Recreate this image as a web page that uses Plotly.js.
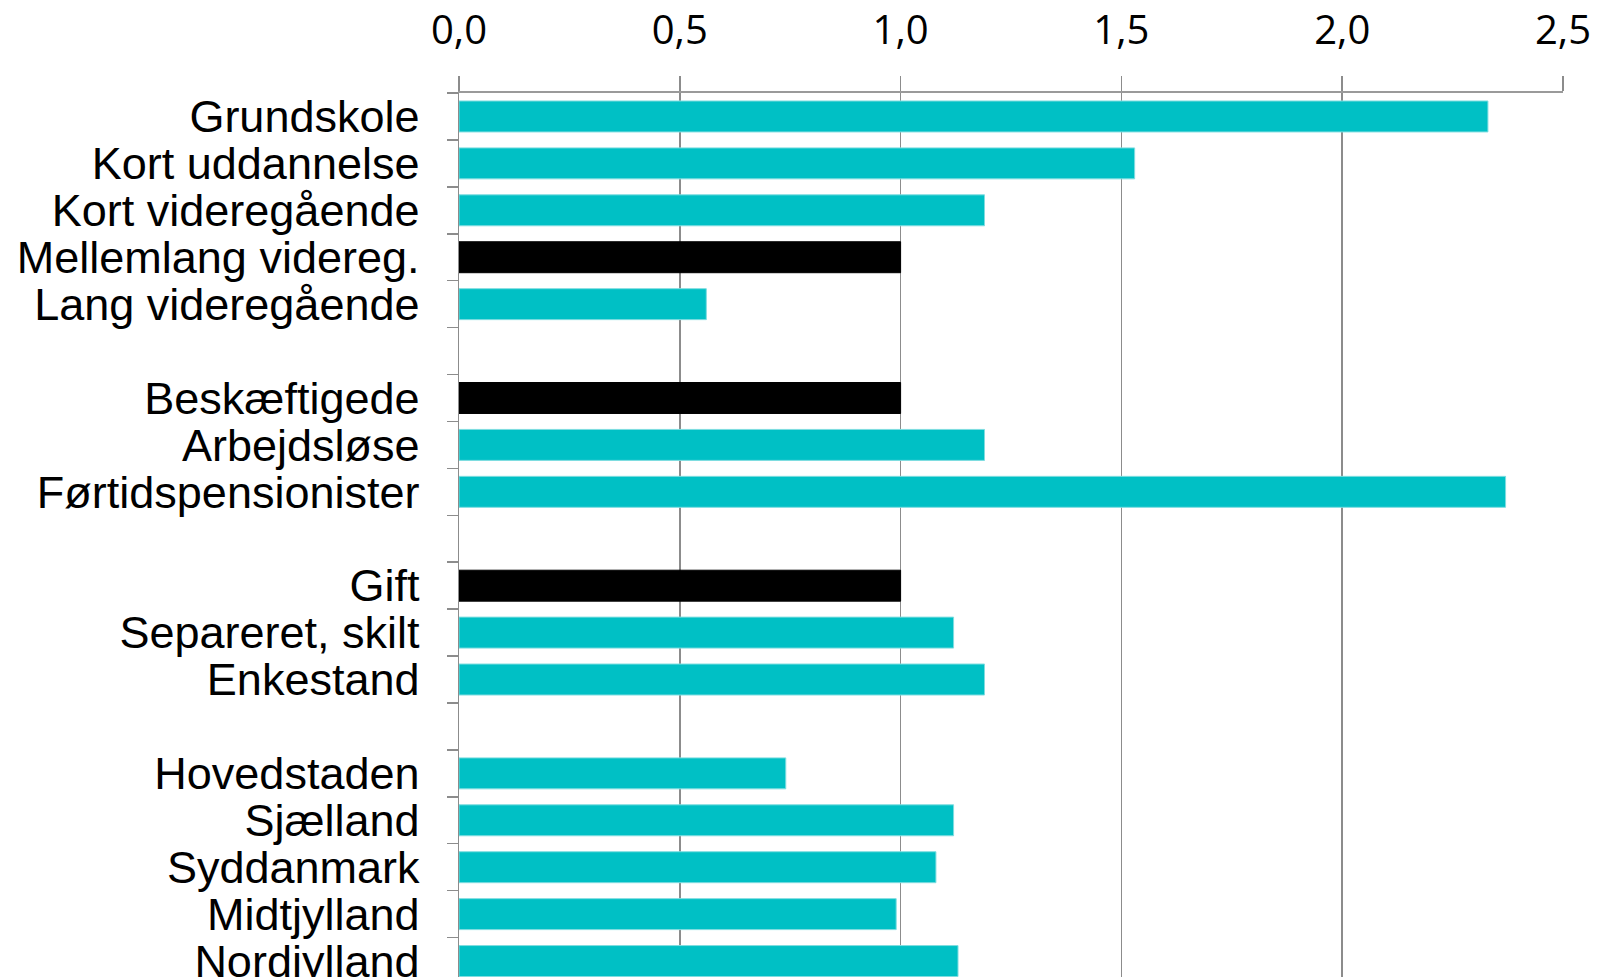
<!DOCTYPE html>
<html>
<head>
<meta charset="utf-8">
<script src="https://cdn.plot.ly/plotly-3.0.1.min.js"></script>
<style>
html,body{margin:0;padding:0;background:#fff;}
#chart{width:1599px;height:977px;}
</style>
</head>
<body>
<div id="chart"></div>
<script>
// Categories (blank entries are the gaps between groups)
const categories = [
  "Grundskole", "Kort uddannelse", "Kort videregående", "Mellemlang videreg.", "Lang videregående",
  " ",
  "Beskæftigede", "Arbejdsløse", "Førtidspensionister",
  "  ",
  "Gift", "Separeret, skilt", "Enkestand",
  "   ",
  "Hovedstaden", "Sjælland", "Syddanmark", "Midtjylland", "Nordjylland"
];
const values = [
  2.33, 1.53, 1.19, 1.00, 0.56,
  null,
  1.00, 1.19, 2.37,
  null,
  1.00, 1.12, 1.19,
  null,
  0.74, 1.12, 1.08, 0.99, 1.13
];
// Reference group of each block (drawn black)
const isReference = [
  false, false, false, true, false,
  false,
  true, false, false,
  false,
  true, false, false,
  false,
  false, false, false, false, false
];
const xTicks = [0, 0.5, 1.0, 1.5, 2.0, 2.5];

const TEAL = "#00c0c5";
const colors = isReference.map(r => r ? "#000000" : TEAL);
const lineColors = isReference.map(r => r ? "#000000" : "#7fdde0");

const trace = {
  type: "bar",
  orientation: "h",
  y: categories,
  x: values,
  marker: { color: colors, line: { color: lineColors, width: 1 } },
  hoverinfo: "x+y"
};

const layout = {
  width: 1599,
  height: 977,
  margin: { l: 459, r: 36, t: 93, b: 0, pad: 0 },
  paper_bgcolor: "#ffffff",
  plot_bgcolor: "#ffffff",
  separators: ",.",
  showlegend: false,
  bargap: 0.34,
  xaxis: {
    side: "top",
    range: [0, 2.5],
    tickmode: "array",
    tickvals: xTicks,
    tickformat: ".1f",
    showgrid: true,
    gridcolor: "#8c8c8c",
    gridwidth: 1.5,
    zeroline: false,
    showline: true,
    linecolor: "#9a9a9a",
    linewidth: 2,
    ticks: "outside",
    ticklen: 15,
    tickwidth: 1.5,
    tickcolor: "#8c8c8c",
    ticklabelstandoff: 16,
    tickfont: { family: "Open Sans, Lato, sans-serif", size: 40, color: "#000000" },
    fixedrange: true
  },
  yaxis: {
    type: "category",
    categoryorder: "array",
    categoryarray: categories,
    range: [18.34, -0.5],
    tickmode: "array",
    tickvals: categories,
    ticktext: categories,
    tickson: "boundaries",
    ticks: "outside",
    ticklen: 11,
    tickwidth: 1.5,
    tickcolor: "#8c8c8c",
    showgrid: false,
    zeroline: false,
    showline: true,
    linecolor: "#8c8c8c",
    linewidth: 1.5,
    ticklabelstandoff: 29,
    tickfont: { family: "Liberation Sans, Arial, sans-serif", size: 45, color: "#000000" },
    automargin: false,
    fixedrange: true
  }
};

Plotly.newPlot("chart", [trace], layout, { staticPlot: true, displayModeBar: false });
</script>
</body>
</html>
